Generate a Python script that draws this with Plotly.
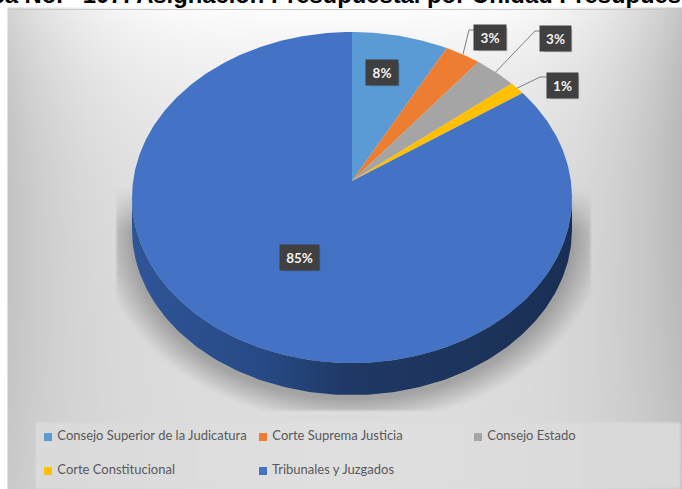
import numpy as np
import plotly.graph_objects as go

# ---- data ----
categories = ["Consejo Superior de la Judicatura", "Corte Suprema Justicia", "Consejo Estado",
              "Corte Constitucional", "Tribunales y Juzgados"]
values = [7.8, 2.9, 3.4, 1.3, 84.6]
colors = ["#5b9bd5", "#ed7d31", "#a5a5a5", "#ffc000", "#4472c4"]
title_text = "Gráfica No.\u00a0\u00a0\u00a0107: Asignación Presupuestal por Unidad Presupuestal"

# ---- pie projection (pixel-like axes) ----
W, H = 682, 489
AX, AY = 352.0, 181.0      # apex of the pie
PX, PY, K = 218.9, 163.9, 0.0997
DEPTH = 32


def rim(theta):
    d = 1 + K * np.cos(theta)
    return AX + PX * np.sin(theta) / d, AY - PY * np.cos(theta) / d


# ---- background field ----
gx = np.arange(9, W + 1, 3.0)
gy = np.arange(9, H + 1, 3.0)
X, Y = np.meshgrid(gx, gy)
U = np.abs(X - 332) / 330
G = 255 - 36 * (1 - np.exp(-Y / 130)) - 45 * U ** 4 * (1 - 0.55 * Y / 480)
E = np.sqrt(((X - 351) / 220) ** 2 + ((Y - 232) / 166) ** 2)
shade = np.clip(1 - (E - 1) / 0.15, 0, 1) * np.clip((Y - 185) / 45, 0, 1)
shade[(Y > 408) | (X < 116) | (X > 588)] = 0
G = G - 58 * shade
panel = (X >= 34) & (X <= 680) & (Y >= 423) & (Y <= 487)
G[panel] = 223 - 6 * U[panel]

fig = go.Figure()
fig.add_trace(go.Heatmap(x=gx, y=gy, z=G, zmin=0, zmax=255, zsmooth="best", showscale=False,
                         colorscale=[[0, "black"], [1, "white"]], hoverinfo="skip"))

# side wall
t0 = np.arccos(-K)
ts = np.linspace(t0, 2 * np.pi - t0, 160)
sx, sy = rim(ts)
fig.add_trace(go.Scatter(
    x=np.r_[sx, sx[::-1]], y=np.r_[sy, sy[::-1] + DEPTH], mode="lines", line=dict(width=0),
    fill="toself", hoverinfo="skip", showlegend=False,
    fillgradient=dict(type="horizontal", start=132, stop=571,
                      colorscale=[[0, "#2f5597"], [0.3, "#274a85"], [0.5, "#1f3864"], [1, "#1a2f55"]])))

# top-face slices
frac = np.cumsum([0] + values) / sum(values)
for i, c in enumerate(colors):
    t = np.linspace(frac[i], frac[i + 1], max(3, int(values[i] * 6))) * 2 * np.pi
    rx, ry = rim(t)
    fig.add_trace(go.Scatter(x=np.r_[AX, rx, AX], y=np.r_[AY, ry, AY], mode="lines", line=dict(width=0),
                             fill="toself", fillcolor=c, name=categories[i], hoverinfo="name",
                             showlegend=False))

# leader lines from slice mid-rims to their label boxes
mids = (frac[:-1] + frac[1:]) * np.pi
elbows = {1: [(469, 30), (475, 30)], 2: [(535, 31), (541, 31)], 3: [(540, 77), (548, 77)]}
for i, pts in elbows.items():
    mx, my = rim(mids[i])
    fig.add_trace(go.Scatter(x=[mx] + [p[0] for p in pts], y=[my] + [p[1] for p in pts], mode="lines",
                             line=dict(color="#7f7f7f", width=1), hoverinfo="skip", showlegend=False))

# legend
leg_x = [48, 263, 478, 48, 263]
leg_y = [437, 437, 437, 471, 471]
for i, c in enumerate(colors):
    fig.add_trace(go.Scatter(x=[leg_x[i]], y=[leg_y[i]], mode="markers+text", text=[" " + categories[i]],
                             textposition="middle right",
                             textfont=dict(family="Lato", size=13, color="#595959"),
                             marker=dict(symbol="square", size=8, color=c), hoverinfo="skip", showlegend=False,
                             cliponaxis=False))

# percentage labels
label_pos = [(382, 72), (490, 37), (555, 38), (562, 85), (299, 257)]
box_w = [30, 30, 29, 29, 37]
anns = []
shapes = [dict(type="line", x0=9, x1=W, y0=9.5, y1=9.5, xref="x", yref="y", layer="above",
               line=dict(color="#c8c8c8", width=1))]
for i, v in enumerate(values):
    lx, ly = label_pos[i]
    hw = box_w[i] / 2
    for off, alpha in ((3, 0.12), (2, 0.2)):
        shapes.append(dict(type="rect", xref="x", yref="y", layer="above", line=dict(width=0),
                           x0=lx - hw + off, x1=lx + hw + off, y0=ly - 11.5 + off, y1=ly + 11.5 + off,
                           fillcolor=f"rgba(30,30,40,{alpha})"))
    anns.append(dict(x=lx, y=ly, xref="x", yref="y", showarrow=False, width=box_w[i], height=23,
                     align="center", valign="middle", text=f"<b>{round(v)}%</b>", bgcolor="#404040",
                     font=dict(family="Lato", size=13.5, color="#f2f2f2")))
anns.append(dict(x=322, y=10.5, xref="x", yref="y", showarrow=False, text=f"<b>{title_text}</b>",
                 font=dict(family="Liberation Sans", size=23.8, color="#000000"), xanchor="center", yanchor="bottom"))

fig.update_layout(
    width=W, height=H, margin=dict(l=0, r=0, t=0, b=0), autosize=False,
    paper_bgcolor="white", plot_bgcolor="white", showlegend=False, annotations=anns, shapes=shapes,
    xaxis=dict(range=[0, W], visible=False, fixedrange=True),
    yaxis=dict(range=[H, 0], visible=False, fixedrange=True),
)
fig.write_html("out.html", post_script="document.body.style.margin='0';document.body.style.overflow='hidden';",
               config={"displayModeBar": False})
